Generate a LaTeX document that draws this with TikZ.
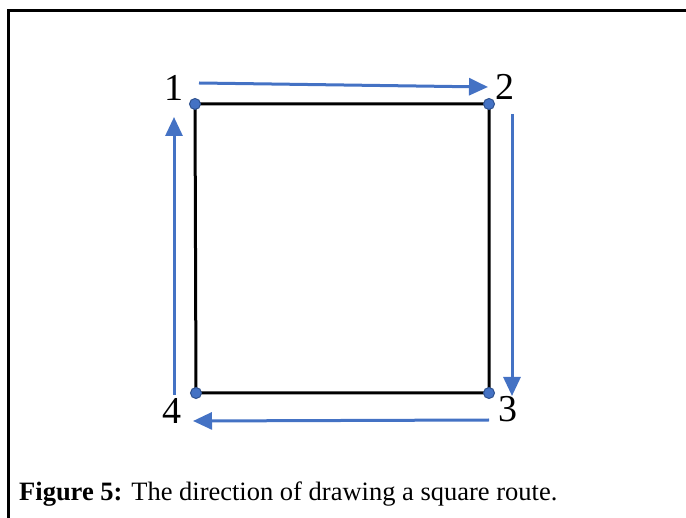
\documentclass[tikz,border=0pt]{standalone}
\usepackage{fontspec}
\setmainfont{Liberation Serif}
\usetikzlibrary{arrows.meta}
\definecolor{routeblue}{RGB}{68,114,196}
\definecolor{dotedge}{RGB}{47,82,143}
\tikzset{
	corner/.style = {circle, fill=routeblue, draw=dotedge, line width=1pt, inner sep=0pt, minimum size=11pt},
	num/.style = {inner sep=0pt, font=\fontsize{38}{40}\selectfont},
	route/.style = {routeblue, line width=3pt, -{Triangle[length=19pt, width=17pt]}}
}
\begin{document}
\begin{tikzpicture}[x=1pt, y=-1pt]
		\useasboundingbox (0,0) rectangle (686,518);
		% frame
		\draw[line width=3pt] (8,518) -- (8,11) -- (686,11);
		% square
		\coordinate (p1) at (195,104);
		\coordinate (p2) at (489,104);
		\coordinate (p3) at (489,393);
		\coordinate (p4) at (196,393);
		\draw[line width=3pt] (p1) -- (p2) -- (p3) -- (p4) -- cycle;
		\foreach \k in {1,...,4}{
			\node[corner] (c\k) at (p\k) {};
		}
		% corner numbers
		\node[num] (l1) at (174,88) {1};
		\node[num] (l2) at (505,87) {2};
		\node[num] (l3) at (508,409) {3};
		\node[num] (l4) at (172,411) {4};
		% direction arrows
		\coordinate (a1) at (199,83);
		\coordinate (b1) at (488,87);
		\coordinate (a2) at (512,114);
		\coordinate (b2) at (512,396);
		\coordinate (a3) at (489,420);
		\coordinate (b3) at (193,421);
		\coordinate (a4) at (174,395);
		\coordinate (b4) at (174,117);
		\foreach \k in {1,...,4}{
			\draw[route] (a\k) -- (b\k);
		}
		% caption
		\node[anchor=base west, inner sep=0pt, font=\fontsize{26.5}{30}\selectfont] (cap) at (19,501) {\textbf{Figure 5:} The direction of drawing a square route.};
	\end{tikzpicture}
\end{document}
